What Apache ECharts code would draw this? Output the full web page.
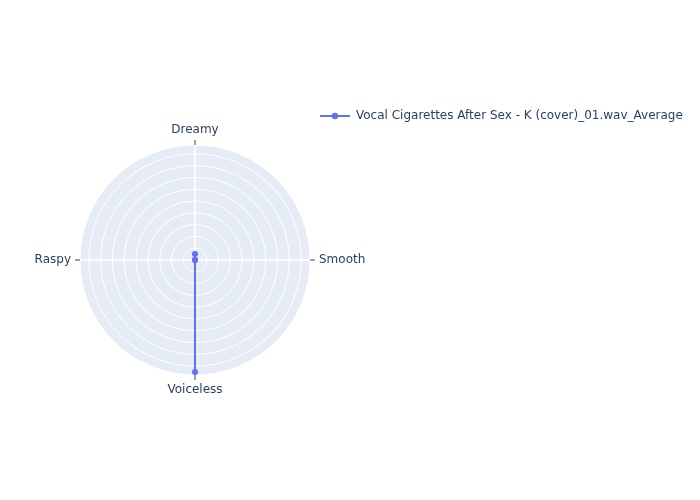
<!DOCTYPE html>
<html>
<head>
<meta charset="utf-8">
<script src="https://cdn.jsdelivr.net/npm/echarts@6/dist/echarts.min.js"></script>
<style>html,body{margin:0;padding:0;background:#fff}#c{width:700px;height:500px}</style>
</head>
<body>
<div id="c"></div>
<script>
var categories = ['Dreamy', 'Smooth', 'Voiceless', 'Raspy'];
var seriesName = 'Vocal Cigarettes After Sex - K (cover)_01.wav_Average';
var values = [0.5, 0, 9.5, 0];
var radialMax = 9.75;
var radialStep = 1;

var points = values.map(function (v, i) { return [v, i]; });
var FONT = 'DejaVu Sans';

var chart = echarts.init(document.getElementById('c'), null, {renderer: 'canvas'});
chart.setOption({
  backgroundColor: '#fff',
  textStyle: {fontFamily: FONT},
  legend: {
    show: true,
    left: 314, top: 105,
    itemWidth: 30, itemHeight: 8, itemGap: 10,
    textStyle: {color: '#2a3f5f', fontSize: 12, fontFamily: FONT, padding: [0, 0, 0, 1]},
    data: [seriesName]
  },
  polar: [
    {center: [195, 260], radius: 115},
    {center: [195, 260], radius: 115}
  ],
  angleAxis: [
    {
      polarIndex: 0,
      type: 'value', min: 0, max: categories.length, interval: 1, startAngle: 90, clockwise: true,
      axisLine: {show: false}, axisTick: {show: false}, axisLabel: {show: false},
      splitLine: {show: false}, z: 0
    },
    {
      polarIndex: 1,
      type: 'value', min: 0, max: categories.length, interval: 1, startAngle: 90, clockwise: true,
      axisLine: {show: false},
      axisTick: {show: true, length: 5, lineStyle: {color: '#444', width: 1}},
      axisLabel: {
        color: '#2a3f5f', fontSize: 12, margin: 9, fontFamily: FONT,
        formatter: function (v) { return v < categories.length ? categories[Math.round(v)] : ''; }
      },
      splitLine: {show: true, lineStyle: {color: '#fff', width: 1.5}},
      z: 2
    }
  ],
  radiusAxis: [
    {
      polarIndex: 0,
      type: 'value', min: 0, max: radialMax, interval: radialStep,
      axisLine: {show: false}, axisTick: {show: false}, axisLabel: {show: false},
      splitLine: {show: false},
      splitArea: {show: true, areaStyle: {color: ['#E5ECF6', '#E5ECF6']}},
      z: 0
    },
    {
      polarIndex: 1,
      type: 'value', min: 0, max: radialMax, interval: radialStep,
      axisLine: {show: false}, axisTick: {show: false}, axisLabel: {show: false},
      splitLine: {show: true, lineStyle: {color: '#fff', width: 1}},
      z: 2
    }
  ],
  series: [{
    name: seriesName,
    type: 'line',
    coordinateSystem: 'polar',
    polarIndex: 1,
    data: points,
    symbol: 'circle',
    symbolSize: 6,
    lineStyle: {color: '#636efa', width: 2},
    itemStyle: {color: '#636efa'},
    areaStyle: {color: 'rgba(99,110,250,0.5)'},
    z: 5,
    animation: false
  }]
});
</script>
</body>
</html>
